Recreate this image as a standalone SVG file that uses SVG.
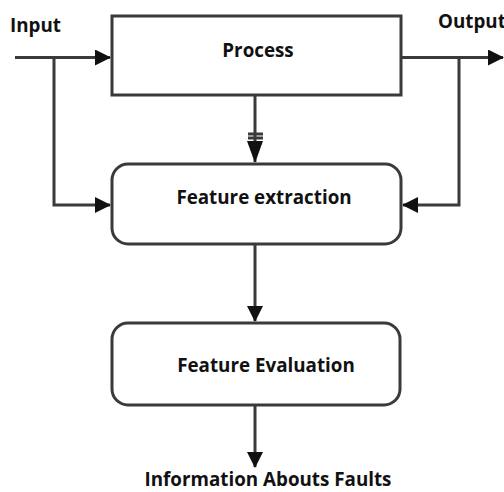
<svg xmlns="http://www.w3.org/2000/svg" width="504" height="492" viewBox="0 0 504 492">
  <style>
    .box { fill: #fff; stroke: #3a3a3a; stroke-width: 3; }
    .wire { fill: none; stroke: #3a3a3a; stroke-width: 3; }
    .lbl { font-family: "Open Sans", "DejaVu Sans", sans-serif; font-weight: bold; font-size: 18.8px; fill: #111; }
  </style>
  <defs>
    <marker id="head" markerWidth="16" markerHeight="16" viewBox="0 0 16 16" refX="15" refY="8" orient="auto" markerUnits="userSpaceOnUse">
      <path d="M0,0 L16,8 L0,16 Z" fill="#111"/>
    </marker>
    <marker id="longhead" markerWidth="22" markerHeight="16" viewBox="0 0 22 16" refX="21" refY="8" orient="auto" markerUnits="userSpaceOnUse">
      <path d="M0,0 L22,8 L0,16 Z" fill="#111"/>
    </marker>
  </defs>

  <rect width="504" height="492" fill="#fff"/>

  <g id="connectors">
    <!-- input into Process, branch down to Feature extraction -->
    <path class="wire" d="M15,57.5 H110" marker-end="url(#head)"/>
    <path class="wire" d="M54,57.5 V205 H110" marker-end="url(#head)"/>
    <!-- output from Process, branch back to Feature extraction -->
    <path class="wire" d="M401,57.5 H503" marker-end="url(#head)"/>
    <path class="wire" d="M459,57.5 V205 H403" marker-end="url(#head)"/>
    <!-- Process to Feature extraction, with double bar -->
    <path class="wire" d="M255,95 V162" marker-end="url(#longhead)"/>
    <path class="wire" d="M248,134 H263 M248,138 H263" stroke-width="1.5"/>
    <!-- Feature extraction to Feature Evaluation -->
    <path class="wire" d="M255,244 V321" marker-end="url(#head)"/>
    <!-- Feature Evaluation to output label -->
    <path class="wire" d="M255,405 V467" marker-end="url(#head)"/>
  </g>

  <g id="input-label"><text class="lbl" x="10" y="32">Input</text></g>
  <g id="output-label"><text class="lbl" x="438" y="28">Output</text></g>

  <g id="process">
    <rect class="box" x="112" y="16" width="289" height="79"/>
    <text class="lbl" x="258" y="57" text-anchor="middle">Process</text>
  </g>

  <g id="feature-extraction">
    <rect class="box" x="112" y="164" width="289" height="80" rx="16"/>
    <text class="lbl" x="264" y="204" text-anchor="middle">Feature extraction</text>
  </g>

  <g id="feature-evaluation">
    <rect class="box" x="112" y="323" width="288" height="82" rx="16"/>
    <text class="lbl" x="266" y="372" text-anchor="middle">Feature Evaluation</text>
  </g>

  <g id="faults-label">
    <text class="lbl" x="268" y="486" text-anchor="middle">Information Abouts Faults</text>
  </g>
</svg>
